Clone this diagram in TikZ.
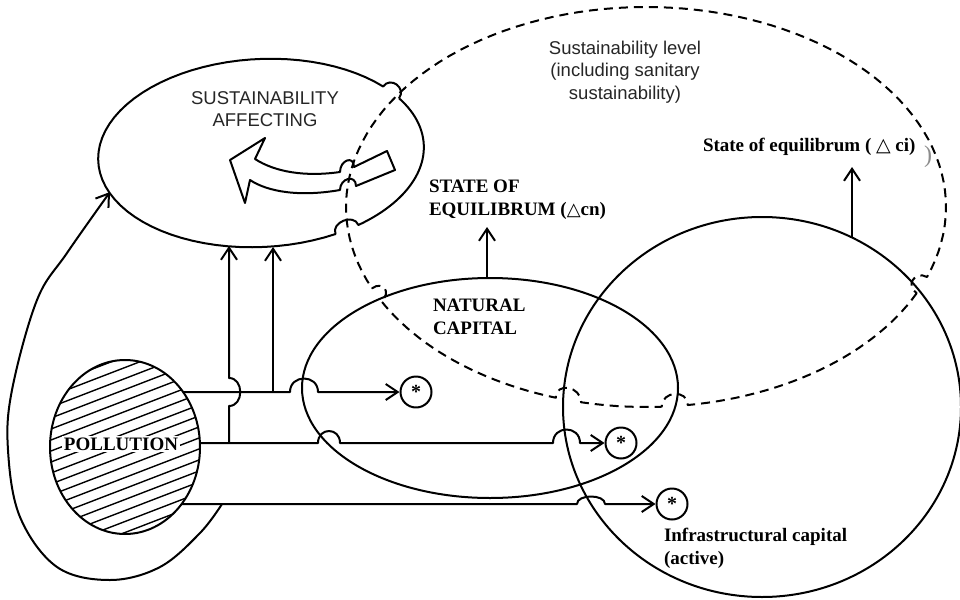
\documentclass[tikz,border=0pt]{standalone}
\usepackage{fontspec}
\setmainfont{Liberation Serif}
\setsansfont{Liberation Sans}
\newfontfamily\symfont{DejaVu Sans}
\usetikzlibrary{arrows.meta}
\usetikzlibrary{shapes.geometric}

\tikzset{
  dashline/.style={dash pattern=on 9pt off 6pt},
  starnode/.style={draw, circle, minimum size=31pt, inner sep=0pt, font=\bfseries\fontsize{20}{20}\selectfont},
  sanslbl/.style={font=\sffamily\fontsize{18.5}{22.5}\selectfont, text=black!85, align=center},
  boldlbl/.style={font=\bfseries\fontsize{19}{23}\selectfont, align=left, inner sep=0pt},
}

\begin{document}
\begin{tikzpicture}[x=1pt, y=-1pt, line width=2pt, line join=round,
  >={Straight Barb[length=12pt,width=16pt]}]
\useasboundingbox (0,0) rectangle (960,599);

\coordinate (pU) at (183,392);
\coordinate (pM) at (200,443);
\coordinate (pL) at (182,504);
\coordinate (vA) at (229,443);
\coordinate (vAt) at (229,246);
\coordinate (vB) at (273,392);
\coordinate (vBt) at (273,247);
\coordinate (lp) at (222,504);
\coordinate (lpTip) at (110,192);
\coordinate (ncTop) at (487,278);
\coordinate (ncTip) at (487,227);
\coordinate (icTop) at (852,237);
\coordinate (icTip) at (852,167);

%Sustainability affecting (with hops):
\begin{scope}[shift={(261,153)}, rotate=3]
\draw plot[domain=329.7:415, samples=40, variable=\t] ({163*cos(\t)},{94*sin(\t)})
  .. controls +(-4,-12) and +(-4,-12) .. ({163*cos(64.5)},{94*sin(64.5)})
  -- plot[domain=424.5:680.3, samples=60, variable=\t] ({163*cos(\t)},{94*sin(\t)})
  .. controls +(8,-10) and +(8,-10) .. ({163*cos(329.7)},{94*sin(329.7)});
\end{scope}
\node[sanslbl] (sa) at (265,109) {SUSTAINABILITY\\AFFECTING};

% hollow turning arrow
\draw (265,138) -- (255,159) .. controls (275,172) and (305,177) .. (340,172)
  .. controls +(0,-12) and +(0,-12) .. (354,167) -- (387,151) -- (395,170) -- (356,186)
  .. controls +(0,-12) and +(0,-12) .. (340,190)
  .. controls (300,197) and (268,192) .. (250,180) -- (245,203) -- (230,160) -- cycle;

%Sustainability level:
\draw[dashline] plot[domain=25.5:82, samples=30, variable=\t] ({646+300*cos(\t)},{207+200*sin(\t)})
  .. controls +(0,-16) and +(0,-16) .. ({646+300*cos(87)},{207+200*sin(87)})
  -- plot[domain=87:102.5, samples=8, variable=\t] ({646+300*cos(\t)},{207+200*sin(\t)})
  .. controls +(0,-16) and +(0,-16) .. ({646+300*cos(107.5)},{207+200*sin(107.5)})
  -- plot[domain=107.5:152, samples=25, variable=\t] ({646+300*cos(\t)},{207+200*sin(\t)})
  .. controls +(11,-8) and +(11,-8) .. ({646+300*cos(156)},{207+200*sin(156)})
  -- plot[domain=156:380.5, samples=90, variable=\t] ({646+300*cos(\t)},{207+200*sin(\t)})
  .. controls +(-12,-7) and +(-12,-7) .. ({646+300*cos(25.5)},{207+200*sin(25.5)});
\node[sanslbl] (sl) at (625,72) {Sustainability level\\(including sanitary\\sustainability)};

%Capitals:
\draw (490,388) ellipse[x radius=188pt, y radius=110pt];
\draw (762,407) ellipse[x radius=199pt, y radius=190pt];
\node[boldlbl, anchor=west] (nc) at (432,317) {NATURAL\\CAPITAL};
\node[boldlbl, anchor=west] (ic) at (663,548) {Infrastructural capital\\(active)};

%Equilibrium states:
\node[boldlbl, anchor=west] (eqn) at (428,200) {STATE OF\\EQUILIBRUM ({\symfont\bfseries\fontsize{18}{18}\selectfont △}cn)};
\node[boldlbl, anchor=west] (eqi) at (702,147) {State of equilibrum ( {\symfont\bfseries\fontsize{19}{19}\selectfont △} ci)};
\node[text=black!45, font=\fontsize{24}{24}\selectfont, inner sep=0pt] (par) at (928,157) {)};
\draw[->] (ncTop) -- (ncTip);
\draw[->] (icTop) -- (icTip);

%Pollution:
\begin{scope}
\clip (125,447) ellipse[x radius=75pt, y radius=87pt];
\foreach \k in {-13,...,13}
  \draw[line width=1.4pt] (25,{483+11*\k}) -- ++(200,-77);
\end{scope}
\node[draw, ellipse, minimum width=150pt, minimum height=174pt] (pol) at (125,447) {};
\node[boldlbl, fill=white, inner sep=2pt] (poltxt) at (121,444) {POLLUTION};

\node[starnode] (s1) at (416,392) {\raisebox{-0.45ex}{*}};
\node[starnode] (s2) at (621,443) {\raisebox{-0.45ex}{*}};
\node[starnode] (s3) at (672,504) {\raisebox{-0.45ex}{*}};

\draw[->] (pU) -- (290,392) .. controls +(0,-18) and +(0,-18) .. (318,392) -- (s1);
\draw[->] (pM) -- (318,443) .. controls +(0,-16) and +(0,-16) .. (340,443)
  -- (553,443) .. controls +(0,-18) and +(0,-18) .. (580,443) -- (s2);
\draw[->] (pL) -- (577,504) .. controls +(0,-10) and +(0,-10) .. (605,504) -- (s3);
\draw[->] (vA) -- (229,406) .. controls +(15,0) and +(15,0) .. (229,378) -- (vAt);
\draw[->] (vB) -- (vBt);
\draw[->] plot[smooth, tension=0.6] coordinates {(lp) (200,533) (160,567) (110,580)
  (57,567) (20,517) (8,450) (12,390) (37,300) (67,253) (lpTip)};

\end{tikzpicture}
\end{document}
